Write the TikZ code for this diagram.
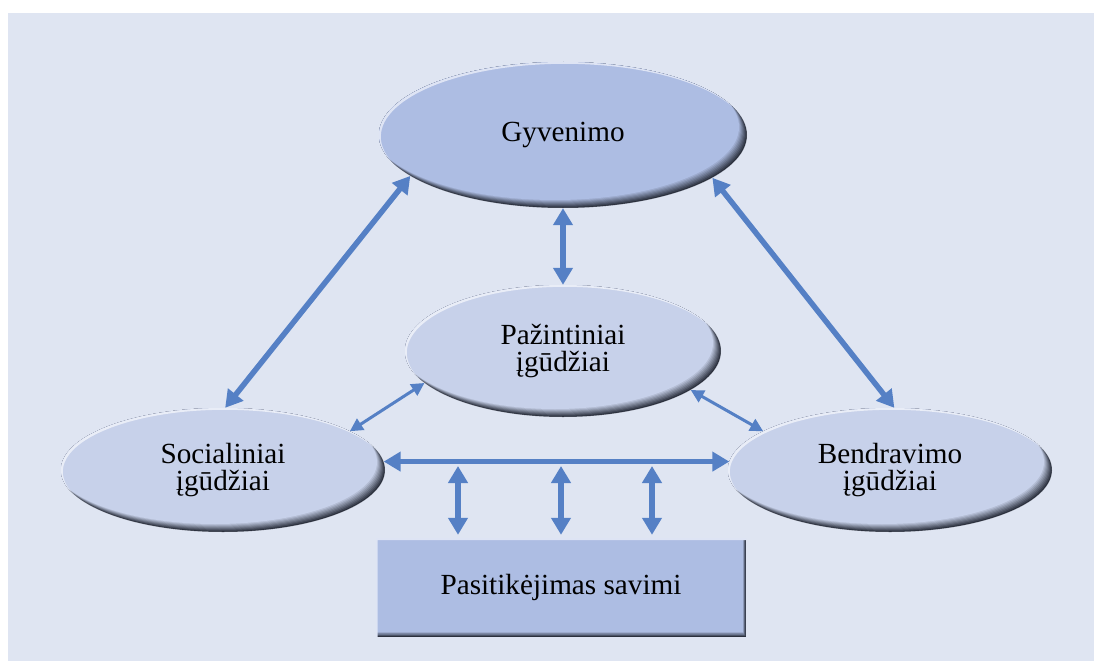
\documentclass[tikz,border=0pt]{standalone}
\usepackage{fontspec}
\setmainfont{Liberation Serif}
\usetikzlibrary{shapes.geometric,arrows.meta}
\definecolor{panel}{HTML}{DFE5F2}
\definecolor{deepfill}{HTML}{ADBDE3}
\definecolor{softfill}{HTML}{C7D1EA}
\definecolor{rim}{HTML}{2B303D}
\definecolor{linkblue}{HTML}{5580C5}
\tikzset{
  labeltext/.style={font=\fontsize{29.2}{27.5}\selectfont, align=center, text=black},
  % ellipse with a soft bevel: dark rim lower right, light rim upper left
  bevelell/.style n args={3}{ellipse, inner sep=0pt, fill=rim, labeltext,
    minimum width=#1, minimum height=#2,
    path picture={
      \foreach \i in {1,...,8}{
        \pgfmathsetmacro\mix{100*\i/8}
        \fill[#3!\mix!rim] ([shift={(-\i*1pt,\i*1pt)}]path picture bounding box.center)
          ellipse [x radius=0.5*#1, y radius=0.5*#2];
      }
      \fill[#3!40!white, even odd rule]
        (path picture bounding box.center) ellipse [x radius=0.5*#1, y radius=0.5*#2]
        ([shift={(1.8pt,-1.8pt)}]path picture bounding box.center) ellipse [x radius=0.5*#1, y radius=0.5*#2];
    }},
  bevelrect/.style n args={3}{rectangle, inner sep=0pt, fill=rim, labeltext,
    minimum width=#1, minimum height=#2,
    path picture={
      \foreach \i in {1,...,8}{
        \pgfmathsetmacro\mix{100*\i/8}
        \fill[#3!\mix!rim] ([shift={(-\i*0.4pt,\i*0.6pt)}]path picture bounding box.south west)
          rectangle ([shift={(-\i*0.4pt,\i*0.6pt)}]path picture bounding box.north east);
      }
      \fill[#3!40!white, even odd rule]
        (path picture bounding box.south west) rectangle (path picture bounding box.north east)
        ([shift={(1.5pt,-2pt)}]path picture bounding box.south west) rectangle ([shift={(1.5pt,-2pt)}]path picture bounding box.north east);
    }},
  bigarrow/.style={draw=linkblue, line width=5.5pt,
    {Triangle[length=17pt,width=19pt]}-{Triangle[length=17pt,width=19pt]}},
  smallarrow/.style={draw=linkblue, line width=3pt,
    {Triangle[length=13pt,width=13pt]}-{Triangle[length=13pt,width=13pt]}}
}
\begin{document}
\begin{tikzpicture}[x=1pt,y=-1pt]
  \useasboundingbox (0,0) rectangle (1094,661);
  \fill[white] (0,0) rectangle (1094,661);
  \fill[panel] (8,13) rectangle (1094,661);

  \node[bevelell={368pt}{146pt}{deepfill}] (gyv) at (563,135) {Gyvenimo};
  \node[bevelell={316pt}{132pt}{softfill}] (paz) at (563,351) {Pažintiniai\\įgūdžiai};
  \node[bevelell={324pt}{124pt}{softfill}] (soc) at (223,470) {Socialiniai\\įgūdžiai};
  \node[bevelell={324pt}{124pt}{softfill}] (ben) at (890,470) {Bendravimo\\įgūdžiai};
  \node[bevelrect={370pt}{99pt}{deepfill}] (self) at (561,587.5) {Pasitikėjimas savimi};

  \draw[bigarrow] (gyv.195) -- (soc.88);
  \draw[bigarrow] (gyv.344) -- (ben.86);
  \draw[bigarrow] (gyv.south) -- (paz.north);
  \draw[smallarrow] (paz.193) -- (soc.17);
  \draw[smallarrow] (paz.343) -- (ben.163);
  \draw[bigarrow] (soc.3) -- (ben.177);

  \coordinate (t1) at (458,466);
  \coordinate (t2) at (561,466);
  \coordinate (t3) at (652,466);
  \foreach \t in {t1,t2,t3}
    \draw[bigarrow, shorten >=3pt] (\t) -- (\t |- self.north);
\end{tikzpicture}
\end{document}
